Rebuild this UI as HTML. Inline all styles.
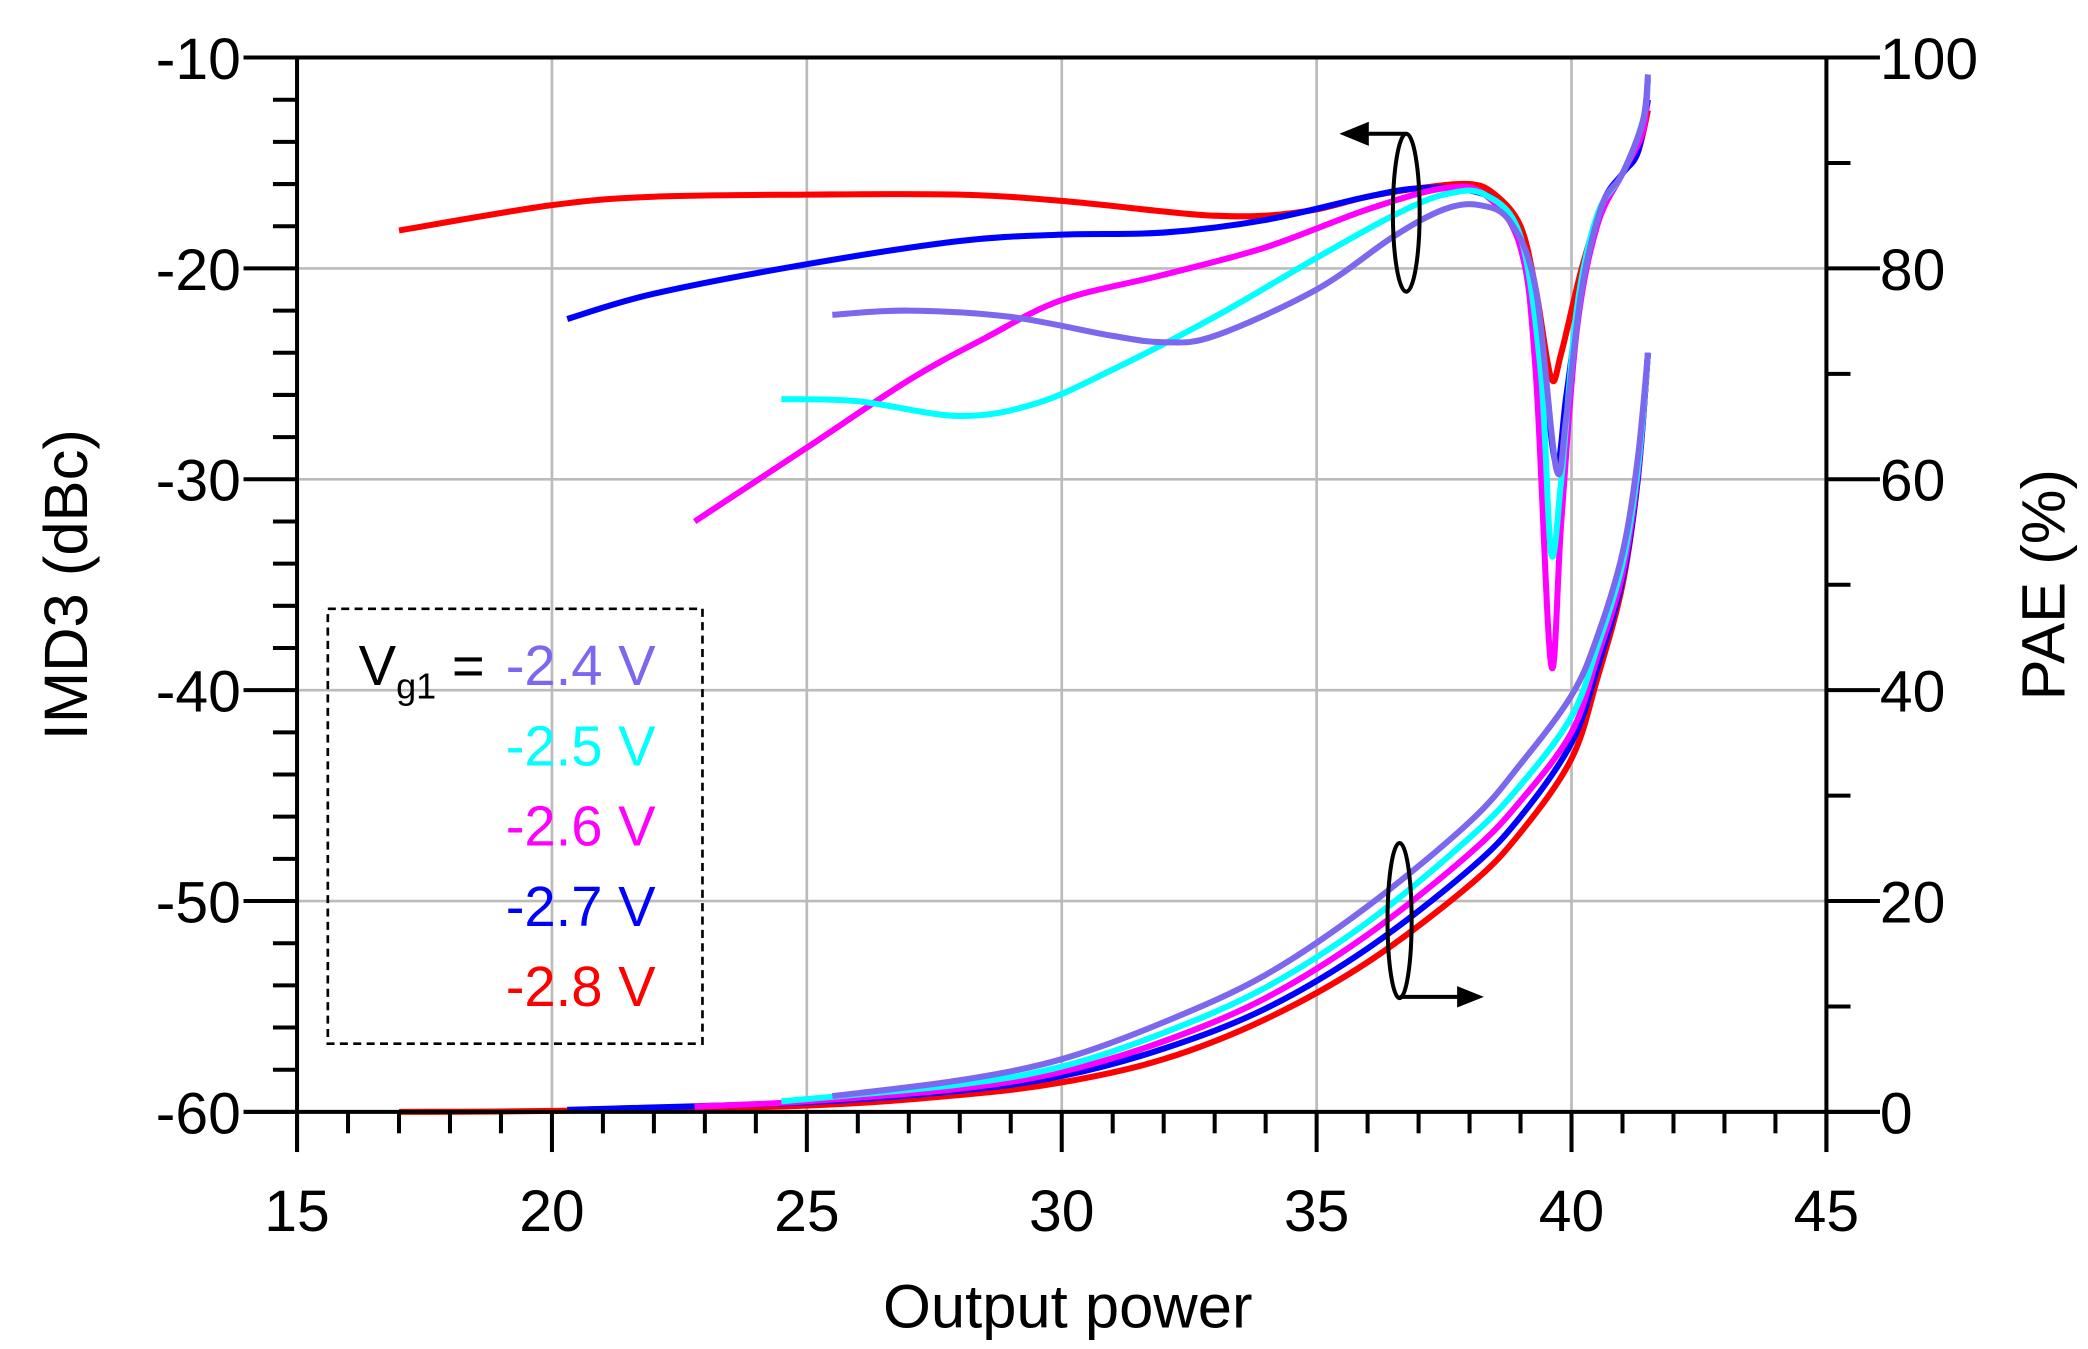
<!DOCTYPE html>
<html><head><meta charset="utf-8"><style>html,body{margin:0;padding:0;background:#fff}svg{display:block}</style></head>
<body>
<svg id="chart" xmlns="http://www.w3.org/2000/svg" width="2088" height="1349" viewBox="0 0 1560.5 1008.2" font-family="'Liberation Sans', sans-serif">
<g id="grid"></g>
<g id="series"></g>
<g id="axes"></g>
<text x="798" y="992" font-size="46" text-anchor="middle">Output power</text>
<text transform="translate(65,437) rotate(-90)" font-size="46" text-anchor="middle">IMD3 (dBc)</text>
<text transform="translate(1543,437) rotate(-90)" font-size="46" text-anchor="middle">PAE (%)</text>
<g>
<rect x="245" y="455" width="280" height="325" fill="none" stroke="#000" stroke-width="2" stroke-dasharray="6,4"/>
<text x="268" y="512" font-size="42">V<tspan font-size="27" dy="10">g1</tspan><tspan dy="-10"> =</tspan></text>
<text x="490" y="512" font-size="42" fill="#7b68ee" text-anchor="end">-2.4 V</text>
<text x="490" y="572" font-size="42" fill="#00ffff" text-anchor="end">-2.5 V</text>
<text x="490" y="632" font-size="42" fill="#ff00ff" text-anchor="end">-2.6 V</text>
<text x="490" y="692" font-size="42" fill="#0000ff" text-anchor="end">-2.7 V</text>
<text x="490" y="752" font-size="42" fill="#ff0000" text-anchor="end">-2.8 V</text>
</g>
<g stroke="#000" stroke-width="3" fill="none">
<ellipse cx="1051" cy="159" rx="10" ry="59"/>
<line x1="1051" y1="100" x2="1018" y2="100"/>
<polygon points="1001,100 1023,91 1023,109" fill="#000" stroke="none"/>
</g>
<g stroke="#000" stroke-width="3" fill="none">
<ellipse cx="1046" cy="688" rx="9" ry="58"/>
<line x1="1046" y1="745" x2="1092" y2="745"/>
<polygon points="1109,745 1089,737 1089,753" fill="#000" stroke="none"/>
</g>
</svg>
<script>
const xTicks=[15,20,25,30,35,40,45];
const imdTicks=[-10,-20,-30,-40,-50,-60];
const paeTicks=[0,20,40,60,80,100];
const seriesNames=['-2.8 V','-2.7 V','-2.6 V','-2.5 V','-2.4 V'];
const seriesColors=['#ff0000','#0000ff','#ff00ff','#00ffff','#7b68ee'];
const imdRedX=[17,20,22,25,28,30,32,33,34,35,36,37,38,38.5,39,39.3,39.6,39.8,40.2,40.6,41,41.3,41.5];
const imdRedY=[-18.2,-17.0,-16.6,-16.5,-16.5,-16.8,-17.3,-17.5,-17.5,-17.2,-16.6,-16.2,-16.0,-16.5,-18,-21,-25.2,-24,-20,-17,-15.5,-14.5,-12.5];
const imdBlueX=[20.3,22,25,28,30,32,34,36,37,38,38.6,39,39.4,39.7,39.9,40.2,40.6,41,41.3,41.5];
const imdBlueY=[-22.4,-21.2,-19.8,-18.7,-18.4,-18.3,-17.7,-16.6,-16.2,-16.3,-17.0,-19,-24,-29.3,-26,-21,-17,-15.5,-14.5,-12];
const imdMagX=[22.8,25,27,28.5,30,32,34,36,37.5,38.3,39,39.3,39.6,39.8,40.1,40.5,41,41.4,41.5];
const imdMagY=[-32,-28.5,-25.3,-23.3,-21.5,-20.3,-19,-17.2,-16.2,-16.5,-19,-25,-38.8,-32,-23,-18,-15.5,-13.5,-11];
const imdCyanX=[24.5,26,28,29.5,31,33,35,36.5,37.5,38.3,39,39.4,39.6,39.8,40.1,40.5,41,41.4,41.5];
const imdCyanY=[-26.2,-26.3,-27.0,-26.4,-24.8,-22.3,-19.5,-17.5,-16.5,-16.5,-18.5,-25,-33.5,-30,-22,-17.5,-15.5,-13,-11];
const imdPurX=[25.5,27,29,31,32,33,35,36.5,37.5,38.2,38.8,39.3,39.7,39.9,40.2,40.6,41,41.4,41.5];
const imdPurY=[-22.2,-22.0,-22.3,-23.2,-23.5,-23.2,-21.0,-18.5,-17.2,-17.0,-17.8,-21,-29.5,-27,-21,-17,-15.5,-13,-10.8];
const paeRedX=[17,20,25,28,30,32,34,36,38,39,40,40.5,41,41.3,41.5];
const paeRedY=[0,0.1,0.6,1.6,2.8,5,8.8,14.2,21.5,26.5,33.5,41,50,60,72];
const paeBlueX=[20.3,25,28,30,32,34,36,38,39,40,40.5,41,41.3,41.5];
const paeBlueY=[0.2,0.9,2,3.4,6,9.8,15.5,23,28,35,42,50.5,60,72];
const paeMagX=[22.8,25,28,30,32,34,36,38,39,40,40.5,41,41.3,41.5];
const paeMagY=[0.5,1,2.2,3.8,6.7,10.8,16.8,24.5,29.5,36,43,51,60.5,72];
const paeCyanX=[24.5,28,30,32,34,36,38,39,40,40.5,41,41.3,41.5];
const paeCyanY=[1,2.6,4.3,7.5,11.8,18,26,31,37.5,44,52,61,72];
const paePurX=[25.5,28,30,32,34,36,38,39,40,40.5,41,41.3,41.5];
const paePurY=[1.5,3,5,8.5,13,19.5,27.5,33,39.5,45,53,62,72];

const X0=222,X1=1365,YT=43,YB=831;
function xs(v){return X0+(v-15)/30*(X1-X0);}
function yImd(v){return YT+(-10-v)/50*(YB-YT);}
function yPae(v){return YB-v/100*(YB-YT);}
const NS='http://www.w3.org/2000/svg';
function mk(tag,attrs,parent){const e=document.createElementNS(NS,tag);for(const k in attrs)e.setAttribute(k,attrs[k]);parent.appendChild(e);return e;}
const grid=document.getElementById('grid'),axes=document.getElementById('axes'),ser=document.getElementById('series');
xTicks.forEach(v=>{const l=mk('line',{x1:xs(v),x2:xs(v),y1:YT,y2:YB,stroke:'#bbb','stroke-width':2},grid);

});
imdTicks.forEach(v=>{const l=mk('line',{x1:X0,x2:X1,y1:yImd(v),y2:yImd(v),stroke:'#bbb','stroke-width':2},grid);

});
function path(xa,ya,yf){const p=xa.map((x,i)=>[xs(x),yf(ya[i])]);let d='M'+p[0][0]+','+p[0][1];
for(let i=0;i<p.length-1;i++){const p0=p[Math.max(i-1,0)],p1=p[i],p2=p[i+1],p3=p[Math.min(i+2,p.length-1)];
const c1=[p1[0]+(p2[0]-p0[0])/6,p1[1]+(p2[1]-p0[1])/6],c2=[p2[0]-(p3[0]-p1[0])/6,p2[1]-(p3[1]-p1[1])/6];
d+=' C'+c1[0]+','+c1[1]+' '+c2[0]+','+c2[1]+' '+p2[0]+','+p2[1];}return d;}
const imdSets=[[imdRedX,imdRedY],[imdBlueX,imdBlueY],[imdMagX,imdMagY],[imdCyanX,imdCyanY],[imdPurX,imdPurY]];
const paeSets=[[paeRedX,paeRedY],[paeBlueX,paeBlueY],[paeMagX,paeMagY],[paeCyanX,paeCyanY],[paePurX,paePurY]];
imdSets.forEach((s,i)=>{const e=mk('path',{d:path(s[0],s[1],yImd),fill:'none',stroke:seriesColors[i],'stroke-width':4.5,'stroke-linejoin':'round'},ser);

});
paeSets.forEach((s,i)=>{const e=mk('path',{d:path(s[0],s[1],yPae),fill:'none',stroke:seriesColors[i],'stroke-width':4.5,'stroke-linejoin':'round'},ser);

});
mk('line',{x1:X0,x2:X1+8,y1:YT,y2:YT,stroke:'#000','stroke-width':3},axes);
mk('line',{x1:X0-40,x2:X1+40,y1:YB,y2:YB,stroke:'#000','stroke-width':3},axes);
mk('line',{x1:X0,x2:X0,y1:YT,y2:YB+30,stroke:'#000','stroke-width':3},axes);
mk('line',{x1:X1,x2:X1,y1:YT,y2:YB+30,stroke:'#000','stroke-width':3},axes);
for(let v=15;v<=45;v++){const maj=v%5===0;mk('line',{x1:xs(v),x2:xs(v),y1:YB,y2:YB+(maj?30:16),stroke:'#000','stroke-width':3},axes);}
xTicks.forEach(v=>{const t=mk('text',{x:xs(v),y:920,'font-size':44,'text-anchor':'middle'},axes);t.textContent=v;

});
for(let v=-10;v>=-60;v-=2){const maj=v%10===0;mk('line',{x1:X0-(maj?40:18),x2:X0,y1:yImd(v),y2:yImd(v),stroke:'#000','stroke-width':3},axes);}
imdTicks.forEach(v=>{const t=mk('text',{x:180,y:yImd(v)+16,'font-size':44,'text-anchor':'end'},axes);t.textContent=v;

});
for(let v=0;v<=100;v+=10){const maj=v%20===0;mk('line',{x1:X1,x2:X1+(maj?40:18),y1:yPae(v),y2:yPae(v),stroke:'#000','stroke-width':3},axes);}
paeTicks.forEach(v=>{const t=mk('text',{x:1405,y:yPae(v)+16,'font-size':44},axes);t.textContent=v;

});
</script>
</body></html>
